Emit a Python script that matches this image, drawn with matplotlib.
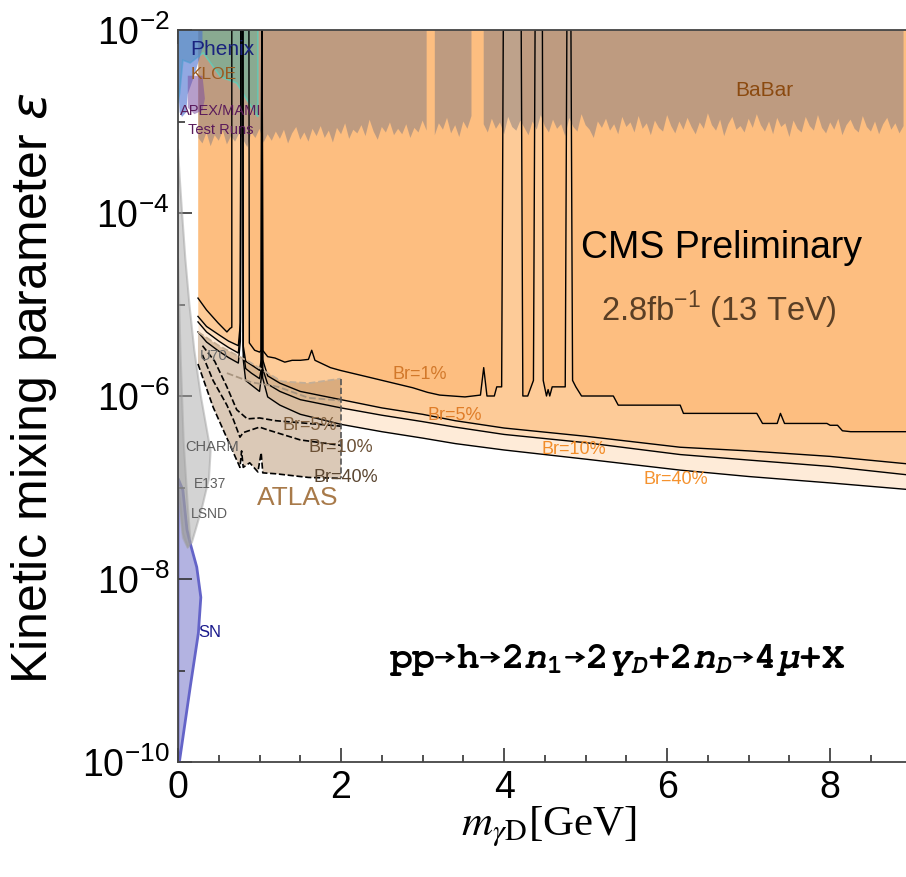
import matplotlib
matplotlib.use("Agg")
import matplotlib.pyplot as plt
import numpy as np
from matplotlib.ticker import FixedLocator, MultipleLocator, NullFormatter

plt.rcParams['font.family'] = ['Liberation Sans', 'DejaVu Sans']
# Courier-like font for the process formula
plt.rcParams['mathtext.rm'] = 'FreeMono:bold'
plt.rcParams['mathtext.it'] = 'FreeMono:italic:bold'
plt.rcParams['mathtext.bf'] = 'FreeMono:bold'

# ---- data (mass in GeV, log10 of epsilon) ----
# BaBar exclusion: lower edge, sampled every 0.05 GeV from 0.25 GeV
babar_log = [
    -3.18, -3.24, -3.12, -3.27, -3.15, -3.21, -3.10, -3.25, -3.16, -3.22,
    -3.13, -3.20, -3.28, -3.12, -3.18, -3.08, -3.23, -3.14, -3.21, -3.11,
    -3.19, -3.09, -3.24, -3.13, -3.06, -3.20, -3.12, -3.22, -3.08, -3.16,
    -3.05, -3.18, -3.10, -3.23, -3.07, -3.14, -3.02, -3.19, -3.09, -3.13,
    -3.04, -3.16, -2.98, -3.11, -3.20, -3.06, -3.12, -3.01, -3.15, -3.08,
    -3.14, -3.03, -3.18, -3.07, -3.12, -2.99, -3.10, -3.05, -3.15, -3.02,
    -3.09, -2.96, -3.13, -3.04, -3.17, -3.00, -3.08, -2.94, -3.06, -3.11,
    -3.03, -3.12, -2.97, -3.08, -3.01, -3.14, -2.95, -3.06, -3.10, -2.99,
    -3.07, -3.15, -3.00, -3.09, -2.93, -3.05, -3.12, -2.98, -3.08, -3.03,
    -3.16, -2.96, -3.06, -3.11, -2.92, -3.04, -3.09, -3.18, -3.00, -3.07,
    -2.97, -3.10, -3.03, -3.14, -2.95, -3.06, -3.01, -3.12, -2.94, -3.08,
    -3.02, -3.15, -2.99, -3.07, -3.11, -2.93, -3.05, -3.13, -3.00, -3.09,
    -2.96, -3.06, -3.14, -3.01, -3.08, -2.91, -3.04, -3.10, -2.98, -3.16,
    -3.03, -2.95, -3.09, -3.05, -3.12, -2.97, -3.07, -2.92, -3.04, -3.11,
    -3.00, -3.14, -2.96, -3.06, -3.02, -3.17, -2.99, -3.08, -3.12, -2.95,
    -3.05, -3.10, -2.93, -3.07, -3.13, -3.01, -3.09, -2.97, -3.15, -3.04,
    -2.98, -3.08, -3.12, -2.94, -3.06, -3.11, -3.00, -3.14, -3.03, -2.96,
    -3.09, -3.02, -3.13, -3.05,
]
babar_gaps = [(3.07, 3.13), (3.62, 3.72)]   # J/psi, psi(2S) vetoes

# CMS limits for Br(h -> 2 n1) = 1%, 5%, 10%, 40%
cms1_m = [0.245, 0.35, 0.49, 0.60, 0.64, 0.66, 0.66, 0.87, 0.875, 0.94, 1.00, 1.022,
          1.027, 1.033, 1.038, 1.10, 1.19, 1.31, 1.40, 1.50, 1.60, 1.64, 1.68, 1.87,
          1.99, 2.32, 2.60, 2.88, 3.06, 3.21, 3.52, 3.71, 3.75, 3.79, 3.88, 3.91,
          3.97, 3.99, 4.21, 4.23, 4.29, 4.36, 4.38, 4.47, 4.48, 4.52, 4.54, 4.56,
          4.59, 4.75, 4.77, 4.82, 4.84, 4.88, 4.95, 5.34, 5.40, 6.16, 6.20, 7.10,
          7.17, 7.35, 7.39, 7.44, 7.96, 8.00, 8.09, 8.15, 8.25, 8.93]
cms1_log = [-4.93, -5.06, -5.20, -5.30, -5.26, -5.25, -2.0, -2.0, -5.42, -5.50, -5.52, -5.50,
            -2.0, -2.0, -5.50, -5.57, -5.585, -5.63, -5.61, -5.61, -5.60, -5.50, -5.61, -5.69,
            -5.72, -5.79, -5.85, -5.91, -5.96, -5.99, -6.01, -5.99, -5.69, -6.00, -6.00, -5.90,
            -5.90, -2.0, -2.0, -6.00, -6.00, -5.83, -2.0, -2.0, -5.83, -6.00, -5.93, -6.00,
            -5.90, -5.90, -2.0, -2.0, -5.83, -5.90, -6.00, -6.00, -6.10, -6.10, -6.19, -6.19,
            -6.30, -6.30, -6.19, -6.30, -6.30, -6.32, -6.32, -6.38, -6.39, -6.39]

cms_m = [0.245, 0.35, 0.50, 0.62, 0.74, 0.765, 0.772, 0.795, 0.80, 0.83, 0.90, 1.00,
         1.022, 1.027, 1.033, 1.038, 1.10, 1.25, 1.50, 2.00, 2.50, 3.00, 3.40, 4.00,
         5.00, 6.16, 7.00, 8.00, 8.93]
cms5_log = [-5.13, -5.24, -5.33, -5.40, -5.45, -5.20, -2.0, -2.0, -5.45, -5.62, -5.66, -5.72,
            -5.60, -2.0, -2.0, -5.60, -5.78, -5.86, -5.95, -6.04, -6.13, -6.20, -6.27, -6.35,
            -6.44, -6.56, -6.60, -6.66, -6.74]
cms10_log = [-5.19, -5.30, -5.40, -5.47, -5.53, -5.30, -2.0, -2.0, -5.50, -5.70, -5.75, -5.81,
             -5.70, -2.0, -2.0, -5.70, -5.87, -5.95, -6.04, -6.13, -6.21, -6.28, -6.34, -6.42,
             -6.51, -6.64, -6.70, -6.77, -6.86]
cms40_log = [-5.30, -5.41, -5.51, -5.58, -5.64, -5.40, -2.0, -2.0, -5.60, -5.83, -5.88, -5.95,
             -5.80, -2.0, -2.0, -5.80, -6.01, -6.10, -6.20, -6.31, -6.39, -6.46, -6.52, -6.59,
             -6.69, -6.81, -6.88, -6.95, -7.02]

# ATLAS displaced lepton-jet limits
atlas_top_m = [0.245, 0.50, 0.88, 1.27, 1.60, 2.00]
atlas_top_log = [-5.30, -5.45, -5.63, -5.84, -5.86, -5.81]
atlas_top2_m = [0.60, 0.90, 1.23, 1.60, 2.00]
atlas_top2_log = [-5.75, -5.85, -5.90, -6.02, -6.05]
atlas5_m = [0.30, 0.45, 0.60, 0.72, 0.85, 1.00, 1.20, 1.60, 2.00]
atlas5_log = [-5.45, -5.62, -5.90, -6.15, -6.25, -6.24, -6.27, -6.30, -6.33]
atlas10_m = [0.30, 0.43, 0.60, 0.68, 0.76, 0.80, 0.90, 1.00, 1.10, 1.50, 2.00]
atlas10_log = [-5.55, -5.83, -6.10, -6.26, -6.45, -6.40, -6.37, -6.34, -6.37, -6.48, -6.54]
atlas40_m = [0.245, 0.43, 0.62, 0.76, 0.78, 0.80, 0.88, 0.98, 1.02, 1.04, 1.20, 1.60, 2.00]
atlas40_log = [-5.65, -6.12, -6.50, -6.78, -6.60, -6.78, -6.73, -6.83, -6.62, -6.84, -6.85, -6.89, -6.90]

# beam dump envelope (U70, CHARM, E137, LSND) and supernova bound
dump_m = [0.0, 0.02, 0.05, 0.09, 0.14, 0.20, 0.28, 0.36, 0.40, 0.38, 0.30, 0.22, 0.17, 0.12, 0.06, 0.03, 0.0]
dump_log = [-3.3, -3.6, -4.0, -4.5, -5.0, -5.5, -6.0, -6.4, -6.6, -6.9, -7.2, -7.45, -7.6, -7.65, -7.5, -7.2, -7.0]
dump2_m = [0.0, 0.03, 0.07, 0.12, 0.15, 0.12, 0.06, 0.02, 0.0]
dump2_log = [-4.5, -5.5, -6.5, -7.2, -7.55, -7.66, -7.55, -7.2, -7.0]
sn_m = [0.0, 0.06, 0.11, 0.15, 0.23, 0.28, 0.25, 0.15, 0.02, 0.0]
sn_log = [-6.9, -7.03, -7.46, -7.61, -7.87, -8.20, -8.59, -9.18, -9.98, -10.0]

# low-mass regions at the top left
g2_m = [0.0, 0.98, 0.98, 0.85, 0.72, 0.52, 0.31, 0.15, 0.06, 0.02, 0.0]
g2_log = [-2.0, -2.0, -2.95, -2.77, -2.58, -2.51, -2.25, -2.36, -2.33, -2.69, -2.8]
phenix_m = [0.0, 0.30, 0.30, 0.20, 0.12, 0.10, 0.05, 0.02, 0.0]
phenix_log = [-2.0, -2.0, -2.2, -2.5, -2.7, -2.9, -2.95, -2.9, -2.6]
apex_m = [0.12, 0.30, 0.33, 0.30, 0.20, 0.12]
apex_log = [-2.5, -2.5, -2.75, -2.88, -2.92, -2.85]

# ---- figure ----
fig = plt.figure(figsize=(9.06, 8.77), dpi=100)
ax = fig.add_axes([178 / 906, 115 / 877, 728 / 906, 732 / 877])
ax.set_yscale('log')
ax.set_xlim(0, 8.93)
ax.set_ylim(1e-10, 1e-2)

top = 1e-2

# supernova
ax.fill(sn_m, 10 ** np.array(sn_log), fc='#B3B3E1', ec='#6464C8', lw=2, zorder=1)

# CMS bands, widest first
for logs, col in [(cms40_log, '#FEEBD8'), (cms10_log, '#FEDCB9'), (cms5_log, '#FDCB98')]:
    ax.fill_between(cms_m, 10 ** np.array(logs), top, color=col, lw=0, zorder=2)
ax.fill_between(cms1_m, 10 ** np.array(cms1_log), top, color='#FDBE80', lw=0, zorder=2)

# BaBar
babar_m = np.round(0.25 + 0.05 * np.arange(len(babar_log)), 2)
keep = np.ones(len(babar_m), bool)
for lo, hi in babar_gaps:
    keep &= ~((babar_m >= lo) & (babar_m <= hi))
ax.fill_between(babar_m, 10 ** np.array(babar_log), top, where=keep,
                color='#807A80', alpha=0.5, lw=0, zorder=3)

# ATLAS
poly_m = np.r_[atlas_top_m, atlas40_m[::-1]]
poly_l = np.r_[atlas_top_log, atlas40_log[::-1]]
ax.fill(poly_m, 10 ** poly_l, fc='#B08860', alpha=0.45, lw=0, zorder=3.5)

# beam dumps
ax.fill(dump_m, 10 ** np.array(dump_log), fc='#A8A8A8', ec='#A0A0A0', alpha=0.5, lw=1.5, zorder=4)
ax.fill(dump2_m, 10 ** np.array(dump2_log), fc='#989898', ec='#A0A0A0', alpha=0.45, lw=1.5, zorder=4)

# top-left
ax.fill(g2_m, 10 ** np.array(g2_log), fc='#5FB7A0', ec='#40E0D0', alpha=0.55, lw=1.2, zorder=4)
ax.fill(phenix_m, 10 ** np.array(phenix_log), fc='#4A6FD0', alpha=0.6, lw=0, zorder=4.1)
ax.fill(apex_m, 10 ** np.array(apex_log), fc='#7B4FA0', alpha=0.55, lw=0, zorder=4.2)

# CMS contour lines
for mm, logs in [(cms1_m, cms1_log), (cms_m, cms5_log), (cms_m, cms10_log), (cms_m, cms40_log)]:
    ax.plot(mm, 10 ** np.array(logs), color='k', lw=1.0, zorder=5)

# ATLAS dashed contours
ax.plot(atlas_top_m, 10 ** np.array(atlas_top_log), color='#C4AE96', ls='--', lw=1.3, zorder=5)
ax.plot(atlas_top2_m, 10 ** np.array(atlas_top2_log), color='#A89580', ls='--', lw=1.3, zorder=5)
for mm, logs in [(atlas5_m, atlas5_log), (atlas10_m, atlas10_log), (atlas40_m, atlas40_log)]:
    ax.plot(mm, 10 ** np.array(logs), color='k', ls='--', lw=1.2, zorder=5)
ax.plot([2.0, 2.0], [10 ** atlas_top_log[-1], 10 ** atlas40_log[-1]], color='#555555', ls='--', lw=1.2, zorder=5)

# ---- labels ----
def t(x, e, s, **kw):
    ax.text(x, 10 ** e, s, ha='center', va='center', zorder=6, **kw)

t(0.54, -2.21, 'Phenix', color='#1A237E', fontsize=15)
t(0.44, -2.49, 'KLOE', color='#9A5A20', fontsize=12.5)
t(0.53, -2.885, 'APEX/MAMI', color='#5A1A5A', fontsize=10.5)
t(0.53, -3.09, 'Test Runs', color='#5A1A5A', fontsize=10.5)
t(7.19, -2.66, 'BaBar', color='#8B4A10', fontsize=15)
t(6.67, -4.38, 'CMS Preliminary', color='k', fontsize=27)
t(6.63, -5.06, r'2.8fb$^{\mathdefault{-1}}$ (13 TeV)', color='#5A3F25', fontsize=23.5)
t(2.97, -5.77, 'Br=1%', color='#D2782A', fontsize=13)
t(3.40, -6.21, 'Br=5%', color='#E07D28', fontsize=13)
t(4.85, -6.58, 'Br=10%', color='#F28C28', fontsize=13)
t(6.11, -6.91, 'Br=40%', color='#F5922E', fontsize=13)
t(1.61, -6.32, 'Br=5%', color='#82613F', fontsize=13)
t(2.0, -6.56, 'Br=10%', color='#6B5035', fontsize=13)
t(2.06, -6.89, 'Br=40%', color='#5A4530', fontsize=13)
t(1.47, -7.11, 'ATLAS', color='#A87A4A', fontsize=19)
t(0.44, -5.56, 'U70', color='#6E6E6E', fontsize=11)
t(0.42, -6.56, 'CHARM', color='#5E5E5E', fontsize=10.5)
t(0.39, -6.96, 'E137', color='#5E5E5E', fontsize=10)
t(0.38, -7.29, 'LSND', color='#5E5E5E', fontsize=10)
t(0.39, -8.58, 'SN', color='#1A1A8C', fontsize=12)
t(5.39, -8.89, r'pp→h→2$n_1$→2$\gamma_D$+2$n_D$→4$\mu$+X', color='k', fontsize=27,
  family='FreeMono', weight='bold', math_fontfamily='custom')

# ---- axes ----
ax.yaxis.set_major_locator(FixedLocator([1e-10, 1e-8, 1e-6, 1e-4, 1e-2]))
ax.yaxis.set_minor_locator(FixedLocator([1e-9, 1e-7, 1e-5, 1e-3]))
ax.yaxis.set_minor_formatter(NullFormatter())
ax.xaxis.set_major_locator(MultipleLocator(2))
ax.xaxis.set_minor_locator(MultipleLocator(0.5))
ax.tick_params(which='both', direction='in', top=True, right=False, width=1.2, color='#333333')
ax.tick_params(which='major', length=10, labelsize=27, pad=6)
ax.tick_params(which='minor', length=5)
for s in ['left', 'bottom', 'top']:
    ax.spines[s].set_color('#444444')
    ax.spines[s].set_linewidth(1.3)
    ax.spines[s].set_zorder(7)
ax.spines['right'].set_visible(False)

ax.set_ylabel(r'Kinetic mixing parameter $\varepsilon$', fontsize=36)
ax.yaxis.set_label_coords(-0.163, 0.51)
ax.set_xlabel(r'$m_{\gamma\mathrm{D}}$[GeV]', fontsize=31, family='Liberation Serif',
              math_fontfamily='stix')
ax.xaxis.set_label_coords(0.51, -0.058)

fig.savefig('out.png', dpi=100)
